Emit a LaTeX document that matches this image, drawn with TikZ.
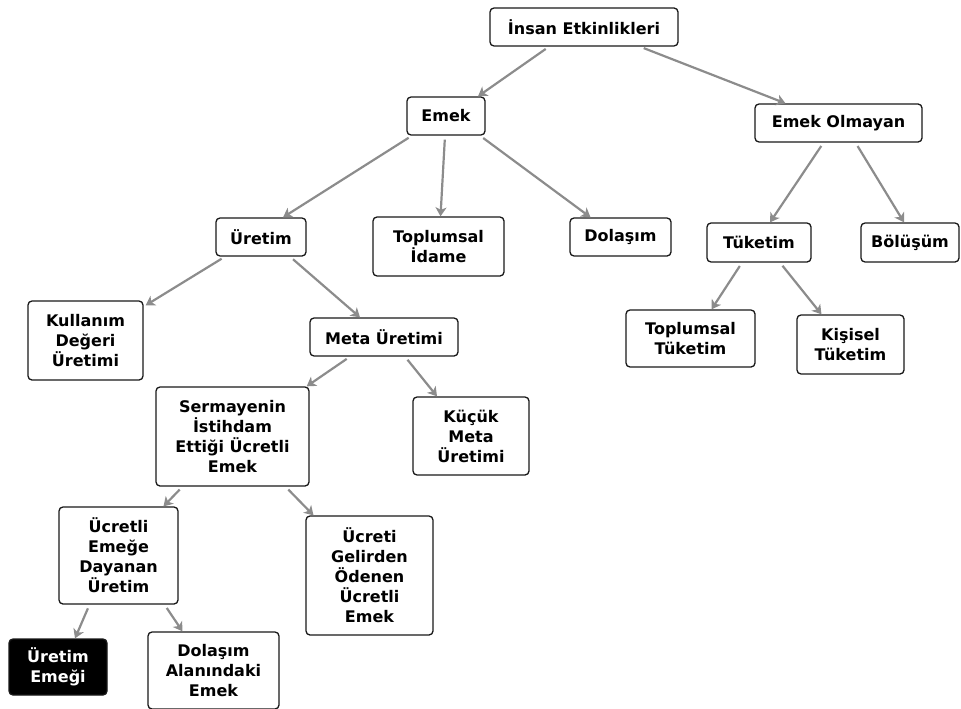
\documentclass[tikz,border=0pt]{standalone}
\usepackage{fontspec}
\setmainfont{DejaVu Sans}
\usetikzlibrary{arrows.meta}

\tikzset{
  box/.style={draw=black!90, line width=1.3pt, rounded corners=4pt, fill=white,
    align=center, inner sep=2pt, font=\fontsize{16}{20}\selectfont\bfseries},
  darkbox/.style={box, fill=black, text=white},
  conn/.style={draw=black!45, line width=2.2pt, shorten <=4pt,
    -{Stealth[length=9pt,width=11pt,inset=2.5pt]}}
}

\begin{document}
\begin{tikzpicture}[x=1pt, y=-1pt]
    \useasboundingbox (0,0) rectangle (961,709);

    % top levels
    \node [box, minimum width=188pt, minimum height=38pt] (insan) at (584,27) {İnsan Etkinlikleri};
    \node [box, minimum width=78pt, minimum height=38pt] (emek) at (446,116) {Emek};
    \node [box, minimum width=167pt, minimum height=38pt] (olmayan) at (838.5,123) {Emek Olmayan};

    % second row
    \node [box, minimum width=90pt, minimum height=38pt] (uretim) at (261,237) {Üretim};
    \node [box, minimum width=131pt, minimum height=59pt] (idame) at (438.5,246.5) {Toplumsal\\İdame};
    \node [box, minimum width=101pt, minimum height=38pt] (dolasim) at (620.5,237) {Dolaşım};
    \node [box, minimum width=104pt, minimum height=39pt] (tuketim) at (759,242.5) {Tüketim};
    \node [box, minimum width=98pt, minimum height=39pt] (bolusum) at (910,242.5) {Bölüşüm};

    % third row
    \node [box, minimum width=115pt, minimum height=79pt] (kullanim) at (85.5,340.5) {Kullanım\\Değeri\\Üretimi};
    \node [box, minimum width=148pt, minimum height=38pt] (meta) at (384,337) {Meta Üretimi};
    \node [box, minimum width=129pt, minimum height=57pt] (toptuk) at (690.5,338.5) {Toplumsal\\Tüketim};
    \node [box, minimum width=107pt, minimum height=59pt] (kisisel) at (850.5,344.5) {Kişisel\\Tüketim};

    % lower rows
    \node [box, minimum width=153pt, minimum height=99pt] (sermaye) at (232.5,436.5) {Sermayenin\\İstihdam\\Ettiği Ücretli\\Emek};
    \node [box, minimum width=116pt, minimum height=78pt] (kucuk) at (471,436) {Küçük\\Meta\\Üretimi};
    \node [box, minimum width=119pt, minimum height=97pt] (ucretli) at (118.5,555.5) {Ücretli\\Emeğe\\Dayanan\\Üretim};
    \node [box, minimum width=127pt, minimum height=119pt] (gelir) at (369.5,575.5) {Ücreti\\Gelirden\\Ödenen\\Ücretli\\Emek};
    \node [darkbox, minimum width=98pt, minimum height=56pt] (uemek) at (58,667) {Üretim\\Emeği};
    \node [box, minimum width=131pt, minimum height=77pt] (dalan) at (213.5,670.5) {Dolaşım\\Alanındaki\\Emek};

    % connectors
    \draw [conn] ([xshift=-35pt]insan.south) -- ([xshift=32pt]emek.north);
    \draw [conn] ([xshift=56pt]insan.south) -- ([xshift=-53pt]olmayan.north);
    \draw [conn] ([xshift=-34pt]emek.south) -- ([xshift=22pt]uretim.north);
    \draw [conn] ([xshift=-1pt]emek.south) -- ([xshift=2pt]idame.north);
    \draw [conn] ([xshift=34pt]emek.south) -- ([xshift=-30pt]dolasim.north);
    \draw [conn] ([xshift=-15pt]olmayan.south) -- ([xshift=11pt]tuketim.north);
    \draw [conn] ([xshift=17pt]olmayan.south) -- ([xshift=-6pt]bolusum.north);
    \draw [conn] ([xshift=-36pt]uretim.south) -- ([xshift=2pt,yshift=-5pt]kullanim.north east);
    \draw [conn] ([xshift=29pt]uretim.south) -- ([xshift=-24pt]meta.north);
    \draw [conn] ([xshift=-34pt]meta.south) -- ([xshift=-3pt]sermaye.north east);
    \draw [conn] ([xshift=21pt]meta.south) -- ([xshift=-34pt]kucuk.north);
    \draw [conn] ([xshift=-17pt]tuketim.south) -- ([xshift=21pt]toptuk.north);
    \draw [conn] ([xshift=21pt]tuketim.south) -- ([xshift=-29pt]kisisel.north);
    \draw [conn] ([xshift=-50pt]sermaye.south) -- ([xshift=45pt]ucretli.north);
    \draw [conn] ([xshift=53pt]sermaye.south) -- ([xshift=-56pt]gelir.north);
    \draw [conn] ([xshift=-29pt]ucretli.south) -- ([xshift=17pt]uemek.north);
    \draw [conn] ([xshift=46pt]ucretli.south) -- ([xshift=-31pt]dalan.north);
\end{tikzpicture}
\end{document}
